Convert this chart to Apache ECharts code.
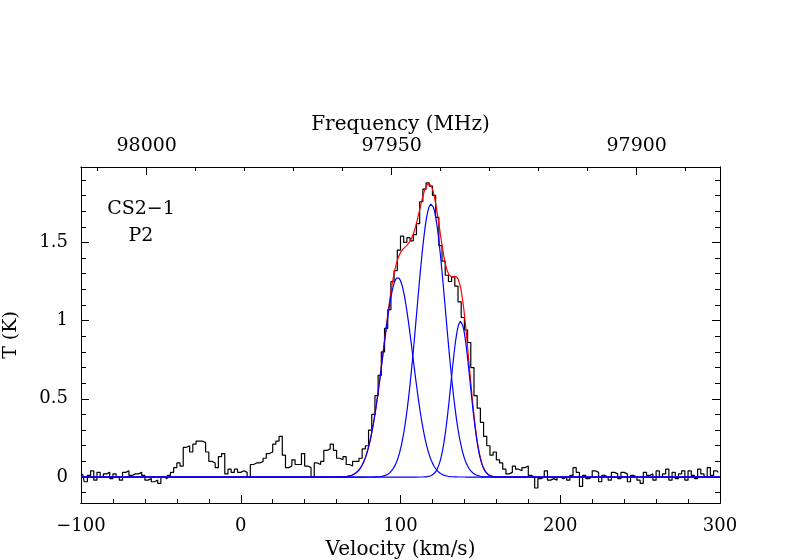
<!DOCTYPE html>
<html>
<head>
<meta charset="utf-8">
<script src="https://cdn.jsdelivr.net/npm/echarts@6/dist/echarts.min.js"></script>
<style>
  html, body { margin: 0; padding: 0; background: #fff; }
  #chart { width: 800px; height: 560px; }
</style>
</head>
<body>
<div id="chart"></div>
<script>
// spectrum channels: centre of first channel and channel width (km/s)
var CHAN_START = -99;
var CHAN_WIDTH = 2;
// antenna temperature per channel (K)
var temperature = [
    0.02,-0.03, 0.01, 0.04,-0.02, 0.03, 0.00, 0.02, 0.03,-0.01,
    0.02, 0.00,-0.02, 0.03, 0.04, 0.01, 0.02, 0.02, 0.03, 0.01,
   -0.02,-0.01,-0.03,-0.02,-0.04, 0.00,-0.01, 0.01, 0.03, 0.06,
    0.09, 0.07, 0.19, 0.20, 0.16, 0.21, 0.23, 0.23, 0.22, 0.16,
    0.10, 0.09, 0.06, 0.13, 0.15, 0.02, 0.05, 0.03, 0.05, 0.03,
    0.04, 0.03, 0.00, 0.08, 0.09, 0.09, 0.10, 0.12, 0.15, 0.16,
    0.21, 0.23, 0.26, 0.14, 0.06, 0.07, 0.11, 0.08, 0.08, 0.15,
    0.07, 0.06, 0.00, 0.09, 0.08, 0.10, 0.17, 0.18, 0.21, 0.17,
    0.12, 0.11, 0.13, 0.08, 0.07, 0.10, 0.10, 0.12, 0.18, 0.20,
    0.30, 0.40, 0.52, 0.65, 0.80, 0.95, 1.07, 1.25, 1.32, 1.45,
    1.54, 1.50, 1.53, 1.51, 1.55, 1.62, 1.76, 1.84, 1.88, 1.86,
    1.80, 1.66, 1.48, 1.38, 1.29, 1.25, 1.28, 1.22, 1.12, 1.02,
    0.94, 0.86, 0.70, 0.52, 0.44, 0.35, 0.26, 0.20, 0.14, 0.16,
    0.11, 0.09, 0.05, 0.02, 0.03, 0.07, 0.05, 0.04, 0.06, 0.07,
    0.01, 0.00,-0.07,-0.01, 0.00, 0.04,-0.02,-0.01,-0.02, 0.00,
   -0.01, 0.00,-0.02, 0.01, 0.06, 0.03,-0.06, 0.01,-0.01, 0.00,
    0.04, 0.03,-0.03, 0.01, 0.00,-0.02, 0.03, 0.02,-0.01, 0.03,
    0.02,-0.03, 0.01, 0.00,-0.02,-0.04, 0.03, 0.01, 0.02,-0.02,
    0.04, 0.00, 0.02, 0.05,-0.02, 0.03,-0.01, 0.02, 0.04,-0.02,
    0.04, 0.01,-0.01, 0.05, 0.02, 0.00, 0.06, 0.01, 0.04, 0.03
];

// gaussian fit components: amplitude (K), centre (km/s), sigma (km/s)
var gaussAmp    = [1.276, 1.745, 0.995];
var gaussCenter = [98.3, 119.2, 137.6];
var gaussSigma  = [9.4, 9.0, 6.0];

// axis ticks
var velLabels  = [-100, 0, 100, 200, 300];
var tempLabels = [0, 0.5, 1, 1.5];
var freqLabels = [98000, 97950, 97900];

// velocity <-> frequency for the top axis
var FREQ_REF = 97950, VEL_AT_REF = 94.5, KMS_PER_MHZ = 3.067;
function freqToVel(f) { return VEL_AT_REF + (FREQ_REF - f) * KMS_PER_MHZ; }

var FONT = '"DejaVu Serif", "Liberation Serif", serif';
var VMIN = -100, VMAX = 300, TMIN = -0.166, TMAX = 1.982;

var spectrum = temperature.map(function (t, i) { return [CHAN_START + i * CHAN_WIDTH, t]; });

var velMinor = [];
for (var v = -80; v < 300; v += 20) velMinor.push(v);
var tempMinor = [];
for (var k = -1; k <= 19; k++) tempMinor.push(+(k / 10).toFixed(1));
var freqMinor = [];
for (var f = 97890; f <= 98010; f += 10) freqMinor.push(freqToVel(f));
var freqMajorVel = freqLabels.map(freqToVel);

function gauss(a, c, s, x) { return a * Math.exp(-(x - c) * (x - c) / (2 * s * s)); }
var gaussCurves = [[], [], []];
var fitSum = [];
for (var x = VMIN; x <= VMAX; x += 0.5) {
    var tot = 0;
    for (var g = 0; g < 3; g++) {
        var y = gauss(gaussAmp[g], gaussCenter[g], gaussSigma[g], x);
        gaussCurves[g].push([x, y]);
        tot += y;
    }
    fitSum.push([x, tot]);
}

var lineStyle = { color: '#000', width: 1 };

function xAx(pos, ticks, len, extra) {
    var ax = {
        type: 'value', position: pos, min: VMIN, max: VMAX,
        splitLine: { show: false },
        axisLine: { show: true, onZero: false, lineStyle: lineStyle },
        axisTick: { show: true, inside: true, length: len, customValues: ticks, lineStyle: lineStyle },
        axisLabel: { show: false }
    };
    return Object.assign(ax, extra || {});
}
function yAx(pos, ticks, len, extra) {
    var ax = {
        type: 'value', position: pos, min: TMIN, max: TMAX,
        splitLine: { show: false },
        axisLine: { show: true, onZero: false, lineStyle: lineStyle },
        axisTick: { show: true, inside: true, length: len, customValues: ticks, lineStyle: lineStyle },
        axisLabel: { show: false }
    };
    return Object.assign(ax, extra || {});
}

var chart = echarts.init(document.getElementById('chart'));
var option = {
    animation: false,
    backgroundColor: '#fff',
    textStyle: { fontFamily: FONT, color: '#000' },
    grid: { left: 81, right: 80, top: 167, bottom: 57, containLabel: false, outerBoundsMode: 'none' },
    xAxis: [
        xAx('bottom', velLabels, 8, {
            name: 'Velocity (km/s)', nameLocation: 'middle', nameGap: 35,
            nameTextStyle: { fontFamily: FONT, fontSize: 20, color: '#000' },
            axisLabel: {
                show: true, customValues: velLabels, margin: 14,
                fontFamily: FONT, fontSize: 18, color: '#000',
                formatter: function (val) { return String(val).replace('-', '\u2212'); }
            }
        }),
        xAx('bottom', velMinor, 4),
        xAx('top', freqMajorVel, 8, {
            name: 'Frequency (MHz)', nameLocation: 'middle', nameGap: 32, nameMoveOverlap: false,
            nameTextStyle: { fontFamily: FONT, fontSize: 20, color: '#000' },
            axisLabel: {
                show: true, customValues: freqMajorVel, margin: 11,
                fontFamily: FONT, fontSize: 19, color: '#000',
                formatter: function (val) {
                    var i = freqMajorVel.findIndex(function (p) { return Math.abs(p - val) < 0.01; });
                    return i >= 0 ? String(freqLabels[i]) : '';
                }
            }
        }),
        xAx('top', freqMinor, 4)
    ],
    yAxis: [
        yAx('left', tempLabels, 8, {
            name: 'T (K)', nameLocation: 'middle', nameGap: 60, nameRotate: 90,
            nameTextStyle: { fontFamily: FONT, fontSize: 19, color: '#000' },
            axisLabel: {
                show: true, customValues: tempLabels, margin: 13,
                fontFamily: FONT, fontSize: 18, color: '#000'
            }
        }),
        yAx('left', tempMinor, 5),
        yAx('right', tempLabels, 8),
        yAx('right', tempMinor, 5)
    ],
    graphic: [
        { type: 'text', x: 141, y: 209, style: { text: 'CS2\u22121', font: '19px ' + FONT, fill: '#000', align: 'center', verticalAlign: 'middle' } },
        { type: 'text', x: 141, y: 236, style: { text: 'P2', font: '19px ' + FONT, fill: '#000', align: 'center', verticalAlign: 'middle' } }
    ],
    series: [
        {
            name: 'spectrum', type: 'line', step: 'middle', data: spectrum,
            showSymbol: false, symbol: 'none', z: 2,
            lineStyle: { color: '#000', width: 1.2 }
        },
        {
            name: 'fit', type: 'line', data: fitSum, showSymbol: false, symbol: 'none', z: 3,
            lineStyle: { color: '#ff0000', width: 1.2 }
        },
        {
            name: 'g1', type: 'line', data: gaussCurves[0], showSymbol: false, symbol: 'none', z: 4,
            lineStyle: { color: '#0000ff', width: 1.2 }
        },
        {
            name: 'g2', type: 'line', data: gaussCurves[1], showSymbol: false, symbol: 'none', z: 4,
            lineStyle: { color: '#0000ff', width: 1.2 }
        },
        {
            name: 'g3', type: 'line', data: gaussCurves[2], showSymbol: false, symbol: 'none', z: 4,
            lineStyle: { color: '#0000ff', width: 1.2 }
        }
    ]
};
chart.setOption(option);
window.addEventListener('resize', chart.resize);
</script>
</body>
</html>
